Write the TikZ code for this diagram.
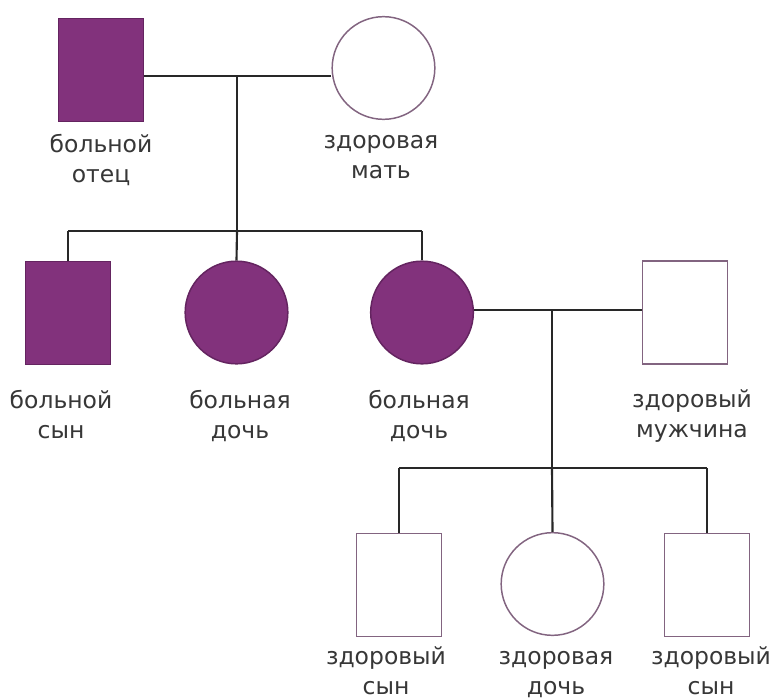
\documentclass[tikz,border=0pt]{standalone}
\usepackage{fontspec}
\setmainfont{DejaVu Sans}
\definecolor{ill}{RGB}{130,50,124}
\definecolor{illdraw}{RGB}{100,36,96}
\definecolor{okdraw}{RGB}{130,100,128}
\definecolor{lineC}{RGB}{40,40,40}
\definecolor{txt}{RGB}{55,55,55}
\tikzset{
  sq/.style={rectangle, inner sep=0pt, minimum width=64pt, minimum height=77.5pt, line width=1.1pt},
  ci/.style={circle, inner sep=0pt, minimum size=77pt, line width=1.1pt},
  affected/.style={fill=ill, draw=illdraw},
  healthy/.style={fill=white, draw=okdraw},
  lbl/.style={anchor=base, inner sep=0pt, text=txt, font=\fontsize{17.6}{22.5}\selectfont},
  conn/.style={draw=lineC, line width=1.6pt}
}
\newcommand{\twol}[2]{\begin{tabular}[t]{@{}c@{}}#1\\#2\end{tabular}}
\begin{document}
\begin{tikzpicture}[x=0.75pt,y=-0.75pt]
\useasboundingbox[fill=white] (0,0) rectangle (773,699);
% generation I
\node[sq,affected] (father) at (101,70) {};
\node[ci,healthy] (mother) at (383.5,68) {};
% generation II
\node[sq,affected] (son) at (68,313) {};
\node[ci,affected] (d1) at (236.5,312.5) {};
\node[ci,affected] (d2) at (422,312.5) {};
\node[sq,healthy] (husband) at (685,312.5) {};
% generation III
\node[sq,healthy] (gs1) at (399,585) {};
\node[ci,healthy] (gd) at (552.5,584) {};
\node[sq,healthy] (gs2) at (707,585) {};
% labels
\node[lbl] (lf) at (101,152) {\twol{больной}{отец}};
\node[lbl] (lm) at (381,148) {\twol{здоровая}{мать}};
\node[lbl] (ls) at (61,408) {\twol{больной}{сын}};
\node[lbl] (ld1) at (240,408) {\twol{больная}{дочь}};
\node[lbl] (ld2) at (419,408) {\twol{больная}{дочь}};
\node[lbl] (lh) at (692,407) {\twol{здоровый}{мужчина}};
\node[lbl] (lg1) at (386,664) {\twol{здоровый}{сын}};
\node[lbl] (lgd) at (556,664) {\twol{здоровая}{дочь}};
\node[lbl] (lg2) at (711,664) {\twol{здоровый}{сын}};
% connectors
\coordinate (m1) at (237,76);
\coordinate (s1) at (237,231);
\coordinate (m2) at (552,310);
\coordinate (s2) at (552,468);
\draw[conn] (father.east |- m1) -- (mother.west |- m1);
\draw[conn] (m1) -- (s1);
\draw[conn] (son.north |- s1) -- (d2.north |- s1);
\draw[conn] (son.north |- s1) -- (son.north);
\draw[conn] (s1) -- (d1.north);
\draw[conn] (d2.north |- s1) -- (d2.north);
\draw[conn] (d2.east |- m2) -- (husband.west |- m2);
\draw[conn] (m2) -- (s2);
\draw[conn] (gs1.north |- s2) -- (gs2.north |- s2);
\draw[conn] (gs1.north |- s2) -- (gs1.north);
\draw[conn] (s2) -- (gd.north);
\draw[conn] (gs2.north |- s2) -- (gs2.north);
\end{tikzpicture}
\end{document}
